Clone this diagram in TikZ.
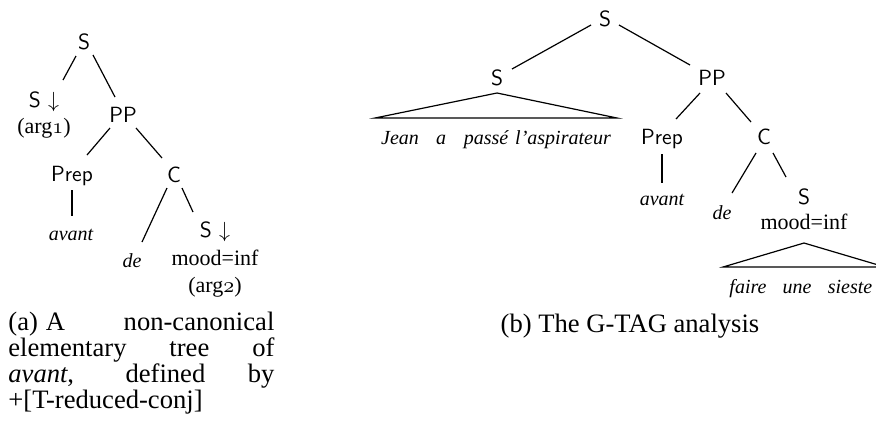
\documentclass[tikz,border=0pt]{standalone}
\usepackage{fontspec}
\setmainfont{Liberation Serif}
\usetikzlibrary{calc}
\newcommand{\osn}[1]{{\usefont{OML}{cmm}{m}{it}#1}}
\tikzset{
  cat/.style={font=\sffamily\fontsize{11}{13}\selectfont, inner sep=0pt, text height=7.6pt, text depth=0pt},
  lex/.style={font=\itshape\fontsize{10}{12}\selectfont, inner sep=0pt, text height=7pt, text depth=0pt},
  feat/.style={font=\fontsize{11}{13}\selectfont, inner sep=0pt, text height=7.6pt, text depth=0pt},
  edge/.style={line width=0.6pt},
  capt/.style={font=\fontsize{13.3}{13}\selectfont, inner sep=0pt},
}
\begin{document}
\begin{tikzpicture}[x=0.5pt,y=-0.5pt]
\useasboundingbox (0,0) rectangle (876,430);
% ---- (a) left tree
\node[cat] (lS) at (84,42) {S};
\node[cat] (lSd) at (44,100) {S $\downarrow$};
\node[feat] (arg1) at (44,126) {(arg\osn{1})};
\node[cat] (lPP) at (123,115) {PP};
\node[cat] (lPrep) at (72,174) {Prep};
\node[cat] (lC) at (174,175) {C};
\node[lex] (lavant) at (71,233) {avant};
\node[lex] (lde) at (132,260) {de};
\node[cat] (lSd2) at (215,230) {S $\downarrow$};
\node[feat] (lmood) at (215,258) {mood=inf};
\node[feat] (arg2) at (215,285) {(arg\osn{2})};
\draw[edge] ($(lS)+(-8,14)$) -- ($(lSd)+(19,-20)$);
\draw[edge] ($(lS)+(9,13)$) -- ($(lPP)+(-8,-18)$);
\draw[edge] ($(lPP)+(-13,13)$) -- ($(lPrep)+(15,-19)$);
\draw[edge] ($(lPP)+(13,13)$) -- ($(lC)+(-12,-17)$);
\draw[edge] ($(lPrep)+(0,16)$) -- ($(lavant)+(1,-17)$);
\draw[edge] ($(lC)+(-7,13)$) -- ($(lde)+(10,-18)$);
\draw[edge] ($(lC)+(8,13)$) -- ($(lSd2)+(-22,-18)$);
% ---- (b) right tree
\node[cat] (rS) at (605,19) {S};
\node[cat] (rSa) at (497,78) {S};
\node[cat] (rPP) at (712,78) {PP};
\node[cat] (rPrep) at (662,137) {Prep};
\node[cat] (rC) at (764,137) {C};
\node[lex] (rJean) at (400,137) {Jean};
\node[lex] (ra) at (441,137) {a};
\node[lex] (rpasse) at (486,137) {passé};
\node[lex] (rasp) at (563,137) {l'aspirateur};
\node[lex] (ravant) at (662,198) {avant};
\node[lex] (rde) at (722,212) {de};
\node[cat] (rSb) at (804,197) {S};
\node[feat] (rmood) at (804,222) {mood=inf};
\node[lex] (rfaire) at (748,286) {faire};
\node[lex] (rune) at (797,286) {une};
\node[lex] (rsieste) at (850,286) {sieste};
\coordinate (t1a) at ($(rSa)+(0,15)$);
\coordinate (t1l) at (375,118);
\coordinate (t1r) at (617,118);
\draw[edge] (t1l) -- (t1a) -- (t1r) -- cycle;
\coordinate (t2a) at ($(rmood)+(0,21)$);
\coordinate (t2l) at (723,267);
\coordinate (t2r) at (885,267);
\draw[edge] (t2l) -- (t2a) -- (t2r) -- cycle;
\draw[edge] ($(rS)+(-14,6)$) -- ($(rSa)+(15,-9)$);
\draw[edge] ($(rS)+(14,6)$) -- ($(rPP)+(-22,-13)$);
\draw[edge] ($(rPP)+(-12,15)$) -- ($(rPrep)+(14,-18)$);
\draw[edge] ($(rPP)+(14,15)$) -- ($(rC)+(-13,-15)$);
\draw[edge] ($(rPrep)+(0,17)$) -- ($(ravant)+(0,-15)$);
\draw[edge] ($(rC)+(-8,16)$) -- ($(rde)+(10,-19)$);
\draw[edge] ($(rC)+(9,16)$) -- ($(rSb)+(-18,-20)$);
% ---- captions
\node[capt, anchor=north west, text width=133pt, align=justify] (capA) at (8,312)
  {(a)\hskip0.3em A non-canonical\linebreak elementary tree of\linebreak \emph{avant}, defined by\linebreak +[T-reduced-conj]};
\node[capt, text height=9pt, text depth=0pt] (capB) at (630,323) {(b) The G-TAG analysis};
\end{tikzpicture}
\end{document}
